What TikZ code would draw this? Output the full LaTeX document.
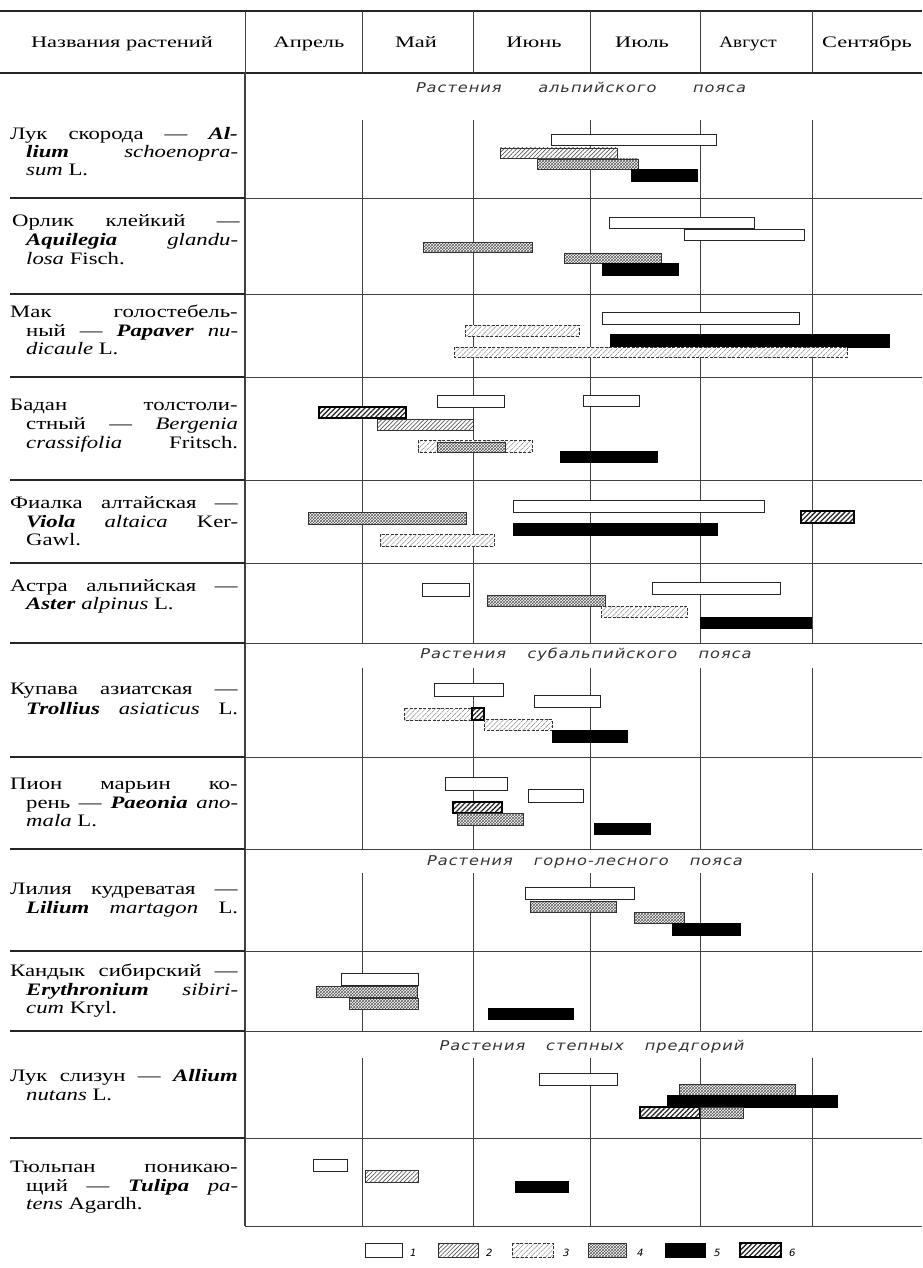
\documentclass[tikz,border=0pt]{standalone}
\usepackage{fontspec}
\usepackage{graphicx}
\setmainfont{Liberation Serif}
\newfontfamily\namefont{Liberation Serif}
\newfontfamily\headfont{Liberation Serif}
\newfontfamily\secfont{DejaVu Sans}[LetterSpace=6]
\usetikzlibrary{patterns,patterns.meta}
\newcommand\jf[1]{\scalebox{1.3}[1]{\makebox[175pt][s]{#1}}}
\newcommand\jc[1]{\scalebox{1.3}[1]{\makebox[163pt][s]{#1}}}
\newcommand\nat[1]{\scalebox{1.3}[1]{#1}}
\newcommand\hd[1]{\scalebox{1.4}[1]{#1}}
\newcommand\sectxt[2]{\scalebox{1.2}[1]{\makebox[#1][s]{#2}}}
\newcommand\gen[1]{\textbf{\textit{#1}}}
\newcommand\spe[1]{\textit{#1}}
\newcommand\gb[5]{\path[#1] (#2,#4) rectangle (#3,#5);}
\tikzset{
 gline/.style={draw=black!75, line width=0.9pt},
 rulel/.style={draw=black!85, line width=1.6pt},
 b1/.style={draw=black!85, line width=0.9pt, fill=white},
 b2/.style={preaction={fill=white}, draw=black!80, line width=0.9pt, pattern={Lines[angle=45,distance=3pt,line width=0.7pt]}, pattern color=black!65},
 b3/.style={preaction={fill=white}, draw=black!80, dash pattern=on 3pt off 1.5pt, line width=0.9pt, pattern={Lines[angle=45,distance=3.5pt,line width=0.5pt]}, pattern color=black!45},
 b4/.style={preaction={fill=white}, draw=black!80, line width=0.9pt, pattern=crosshatch, pattern color=black!65},
 b5/.style={fill=black, draw=black, line width=0.5pt},
 b6/.style={preaction={fill=white}, draw=black, line width=1.1pt, pattern={Lines[angle=45,distance=3.5pt,line width=1.3pt]}, pattern color=black!85},
 namel/.style={anchor=base west, inner sep=0pt, font=\namefont\fontsize{17.5}{19}\selectfont},
 headl/.style={anchor=base, inner sep=0pt, font=\headfont\fontsize{16}{18}\selectfont},
 secl/.style={anchor=base, inner sep=0pt, font=\secfont\itshape\fontsize{13.5}{15}\selectfont, text=black!80},
 legl/.style={anchor=base west, inner sep=0pt, font=\secfont\itshape\fontsize{10}{12}\selectfont},
}
\begin{document}
\begin{tikzpicture}[x=1pt,y=-1pt]
\fill[white] (0,0) rectangle (922,1268);
\useasboundingbox (0,0) rectangle (922,1268);
% header rules
\draw[rulel] (0,11) -- (922,11);
\draw[rulel] (0,73) -- (922,73);
\foreach \x in {245,362,473,590,700,812} \draw[gline] (\x,11) -- (\x,73);
\node[headl] (h0) at (122,48) {\hd{Названия растений}};
\node[headl] (h1) at (309,48) {\hd{Апрель}};
\node[headl] (h2) at (416,48) {\hd{Май}};
\node[headl] (h3) at (534,48) {\hd{Июнь}};
\node[headl] (h4) at (642,48) {\hd{Июль}};
\node[headl] (h5) at (748,48) {\scalebox{1.2}[1]{Август}};
\node[headl] (h6) at (867,48) {\hd{Сентябрь}};
% name column separator
\draw[gline, line width=1.2pt] (245,73) -- (245,1226);
% chart verticals
\foreach \x in {362,473,590,700,812} {
  \draw[gline] (\x,120) -- (\x,643);
  \draw[gline] (\x,668) -- (\x,849);
  \draw[gline] (\x,873) -- (\x,1031);
  \draw[gline] (\x,1058) -- (\x,1226);
}
% row separators
\foreach \y in {198,294,377,480,563,643,757,849,951,1031,1138} {
  \draw[rulel] (10,\y) -- (245,\y);
  \draw[gline] (245,\y) -- (922,\y);
}
\draw[gline] (245,1226) -- (922,1226);
% section labels
\node[secl] (s1) at (581,93) {\sectxt{275pt}{Растения альпийского пояса}};
\node[secl] (s2) at (586,658) {\sectxt{276pt}{Растения субальпийского пояса}};
\node[secl] (s3) at (585,865) {\sectxt{263pt}{Растения горно-лесного пояса}};
\node[secl] (s4) at (592,1050) {\sectxt{254pt}{Растения степных предгорий}};
% plant names
\node[namel] (n1a) at (10,140) {\jf{Лук скорода — \gen{Al-}}};
\node[namel] (n1b) at (26,158) {\jc{\gen{lium} \spe{schoenopra-}}};
\node[namel] (n1c) at (26,176) {\nat{\spe{sum} L.}};
\node[namel] (n2a) at (12,226) {\jf{Орлик клейкий —}};
\node[namel] (n2b) at (26,245) {\jc{\gen{Aquilegia} \spe{glandu-}}};
\node[namel] (n2c) at (26,264) {\nat{\spe{losa} Fisch.}};
\node[namel] (n3a) at (10,317) {\jf{Мак голостебель-}};
\node[namel] (n3b) at (26,336) {\jc{ный — \gen{Papaver} \spe{nu-}}};
\node[namel] (n3c) at (26,354) {\nat{\spe{dicaule} L.}};
\node[namel] (n4a) at (10,410) {\jf{Бадан толстоли-}};
\node[namel] (n4b) at (26,429) {\jc{стный — \spe{Bergenia}}};
\node[namel] (n4c) at (26,448) {\jc{\spe{crassifolia} Fritsch.}};
\node[namel] (n5a) at (10,508) {\jf{Фиалка алтайская —}};
\node[namel] (n5b) at (26,527) {\jc{\gen{Viola} \spe{altaica} Ker-}};
\node[namel] (n5c) at (26,545) {\nat{Gawl.}};
\node[namel] (n6a) at (10,591) {\jf{Астра альпийская —}};
\node[namel] (n6b) at (26,609) {\nat{\gen{Aster} \spe{alpinus} L.}};
\node[namel] (n7a) at (10,694) {\jf{Купава азиатская —}};
\node[namel] (n7b) at (26,714) {\jc{\gen{Trollius} \spe{asiaticus} L.}};
\node[namel] (n8a) at (10,789) {\jf{Пион марьин ко-}};
\node[namel] (n8b) at (26,808) {\jc{рень — \gen{Paeonia} \spe{ano-}}};
\node[namel] (n8c) at (26,826) {\nat{\spe{mala} L.}};
\node[namel] (n9a) at (10,894) {\jf{Лилия кудреватая —}};
\node[namel] (n9b) at (26,913) {\jc{\gen{Lilium} \spe{martagon} L.}};
\node[namel] (n10a) at (10,976) {\jf{Кандык сибирский —}};
\node[namel] (n10b) at (26,995) {\jc{\gen{Erythronium} \spe{sibiri-}}};
\node[namel] (n10c) at (26,1013) {\nat{\spe{cum} Kryl.}};
\node[namel] (n11a) at (10,1081) {\jf{Лук слизун — \gen{Allium}}};
\node[namel] (n11b) at (26,1100) {\nat{\spe{nutans} L.}};
\node[namel] (n12a) at (10,1172) {\jf{Тюльпан поникаю-}};
\node[namel] (n12b) at (26,1191) {\jc{щий — \gen{Tulipa} \spe{pa-}}};
\node[namel] (n12c) at (26,1209) {\nat{\spe{tens} Agardh.}};
% bars row 1
\gb{b1}{551}{716}{134}{145}
\gb{b2}{500}{617}{148}{158}
\gb{b4}{537}{638}{159}{169}
\gb{b5}{631}{697}{169}{181}
% row 2
\gb{b1}{609}{754}{217}{228}
\gb{b1}{684}{804}{229}{240}
\gb{b4}{423}{532}{242}{252}
\gb{b4}{564}{661}{253}{263}
\gb{b5}{602}{678}{263}{275}
% row 3
\gb{b1}{602}{799}{312}{324}
\gb{b3}{465}{579}{325}{336}
\gb{b5}{610}{889}{334}{347}
\gb{b3}{454}{847}{347}{357}
% row 4
\gb{b1}{437}{504}{395}{407}
\gb{b1}{583}{639}{395}{406}
\gb{b6}{319}{406}{407}{418}
\gb{b2}{377}{473}{419}{430}
\gb{b3}{418}{532}{440}{452}
\gb{b4}{437}{505}{442}{452}
\gb{b5}{560}{657}{451}{462}
% row 5
\gb{b1}{513}{764}{500}{512}
\gb{b4}{308}{466}{512}{524}
\gb{b6}{801}{854}{511}{523}
\gb{b5}{513}{717}{523}{535}
\gb{b3}{380}{494}{534}{546}
% row 6
\gb{b1}{422}{469}{583}{596}
\gb{b1}{652}{780}{582}{594}
\gb{b4}{487}{605}{595}{606}
\gb{b3}{601}{687}{606}{617}
\gb{b5}{700}{811}{617}{628}
% row 7
\gb{b1}{434}{503}{683}{696}
\gb{b1}{534}{600}{695}{707}
\gb{b3}{404}{484}{708}{720}
\gb{b6}{472}{484}{708}{720}
\gb{b3}{484}{552}{719}{730}
\gb{b5}{552}{627}{730}{742}
% row 8
\gb{b1}{445}{507}{777}{790}
\gb{b1}{528}{583}{789}{802}
\gb{b6}{453}{502}{802}{813}
\gb{b4}{457}{523}{813}{825}
\gb{b5}{594}{650}{823}{834}
% row 9
\gb{b1}{525}{634}{887}{899}
\gb{b4}{530}{616}{901}{912}
\gb{b4}{634}{684}{912}{923}
\gb{b5}{672}{740}{923}{935}
% row 10
\gb{b1}{341}{418}{973}{985}
\gb{b4}{316}{417}{986}{997}
\gb{b4}{349}{418}{998}{1009}
\gb{b5}{488}{573}{1008}{1019}
% row 11
\gb{b1}{539}{617}{1073}{1085}
\gb{b4}{679}{795}{1084}{1095}
\gb{b5}{667}{837}{1095}{1107}
\gb{b6}{640}{700}{1107}{1118}
\gb{b4}{700}{743}{1107}{1118}
% row 12
\gb{b1}{313}{347}{1159}{1171}
\gb{b2}{365}{418}{1170}{1182}
\gb{b5}{515}{568}{1181}{1192}
% legend
\gb{b1}{365}{402}{1243}{1257}
\node[legl] (l1) at (410,1256) {1};
\gb{b2}{438}{478}{1243}{1257}
\node[legl] (l2) at (486,1256) {2};
\gb{b3}{512}{553}{1243}{1257}
\node[legl] (l3) at (563,1256) {3};
\gb{b4}{588}{626}{1243}{1257}
\node[legl] (l4) at (637,1256) {4};
\gb{b5}{665}{705}{1243}{1257}
\node[legl] (l5) at (714,1256) {5};
\gb{b6}{740}{781}{1243}{1257}
\node[legl] (l6) at (789,1256) {6};
\end{tikzpicture}
\end{document}
